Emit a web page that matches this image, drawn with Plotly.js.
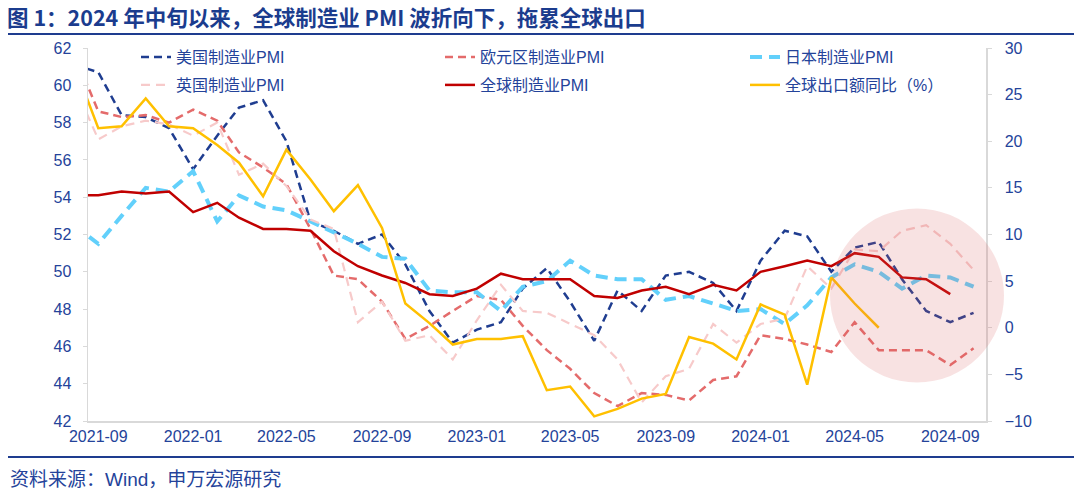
<!DOCTYPE html>
<html>
<head>
<meta charset="utf-8">
<script src="https://cdn.plot.ly/plotly-3.0.1.min.js"></script>
<style>
html,body{margin:0;padding:0;background:#fff;}
#chart{width:1080px;height:492px;}
</style>
</head>
<body>
<div id="chart"></div>
<script>
// ---- data ----
const months = [
  "2021-08","2021-09","2021-10","2021-11","2021-12",
  "2022-01","2022-02","2022-03","2022-04","2022-05","2022-06","2022-07","2022-08","2022-09","2022-10","2022-11","2022-12",
  "2023-01","2023-02","2023-03","2023-04","2023-05","2023-06","2023-07","2023-08","2023-09","2023-10","2023-11","2023-12",
  "2024-01","2024-02","2024-03","2024-04","2024-05","2024-06","2024-07","2024-08","2024-09","2024-10"
];
const seriesNames = ["美国制造业PMI","欧元区制造业PMI","日本制造业PMI","英国制造业PMI","全球制造业PMI","全球出口额同比（%）"];
const usPMI = [61.1,60.7,58.4,58.3,57.7,
  55.5,57.3,58.8,59.2,57.0,52.7,52.2,51.5,52.0,50.4,47.9,46.2,
  46.9,47.3,49.1,50.2,48.4,46.3,49.0,47.9,49.8,50.0,49.4,47.9,
  50.6,52.2,51.9,50.0,51.3,51.6,49.6,47.9,47.3,47.8];
const euroPMI = [61.7,58.6,58.3,58.4,58.0,
  58.7,58.1,56.4,55.6,54.7,52.3,49.8,49.6,48.4,46.4,47.1,47.9,
  48.7,48.5,47.1,45.8,44.8,43.5,42.8,43.5,43.4,43.1,44.2,44.4,
  46.6,46.4,46.1,45.7,47.3,45.8,45.8,45.8,45.0,45.9];
const japanPMI = [52.5,51.5,53.0,54.5,54.3,
  55.4,52.7,54.1,53.5,53.3,52.7,52.1,51.5,50.8,50.7,49.0,48.9,
  48.9,47.9,49.2,49.5,50.6,49.8,49.6,49.6,48.5,48.7,48.3,47.9,
  48.0,47.2,48.2,49.7,50.4,50.0,49.1,49.8,49.7,49.2];
const ukPMI = [60.0,57.1,57.8,58.1,57.9,
  57.3,58.0,55.2,55.8,54.6,52.8,52.3,47.3,48.4,46.3,46.6,45.3,
  47.4,49.3,47.9,47.8,47.2,46.6,45.3,43.0,44.4,44.8,47.2,46.2,
  47.2,47.5,50.3,49.1,51.2,51.1,52.2,52.5,51.5,50.1];
const globalPMI = [54.1,54.1,54.3,54.2,54.3,
  53.2,53.7,52.9,52.3,52.3,52.2,51.1,50.3,49.8,49.4,48.8,48.7,
  49.1,49.9,49.6,49.6,49.6,48.7,48.6,49.0,49.2,48.8,49.3,49.0,
  50.0,50.3,50.6,50.3,51.0,50.8,49.7,49.6,48.8];
const exportYoY = [28.2,21.4,21.6,24.6,21.6,
  21.4,19.6,17.7,14.1,19.1,15.9,12.5,15.3,10.7,2.6,0.5,-1.8,
  -1.2,-1.2,-0.9,-6.7,-6.3,-9.5,-8.7,-7.6,-7.1,-1.0,-1.7,-3.4,
  2.5,1.4,-6.1,5.4,2.6,0.0];

const titleText = "图 1：2024 年中旬以来，全球制造业 PMI 波折向下，拖累全球出口";
const sourceText = "资料来源：Wind，申万宏源研究";

// ---- styling ----
const NAVY = "#1E3C8F";
const TXT = "#24439A";
const FONT = "Liberation Sans, Arial, Noto Sans CJK SC, sans-serif";
const W = 1080, H = 492;
const M = {l:88, r:94, t:48, b:71, autoexpand: false};
const pw = W - M.l - M.r, ph = H - M.t - M.b;
const px2paperX = x => (x - M.l) / pw;
const px2paperY = y => (H - M.b - y) / ph;

// legend slot per series: [text-left x, row centre y] in pixels
const legendSlots = [[177,57],[481,57],[786,57],[177,85],[481,85],[786,85]];
const legendIds = ["legend","legend2","legend3","legend4","legend5","legend6"];

function mk(i, y, color, width, dash, yaxis) {
  return {
    type: "scatter", mode: "lines", name: seriesNames[i],
    x: months.slice(0, y.length), y: y,
    line: {color: color, width: width, dash: dash},
    legend: legendIds[i], yaxis: yaxis || "y",
    hoverinfo: "skip"
  };
}

const traces = [
  mk(0, usPMI, "#1F3D90", 2.5, "8px,5px"),
  mk(1, euroPMI, "#E46B6B", 2.5, "8px,5px"),
  mk(2, japanPMI, "#62D0FB", 4, "12px,7px"),
  mk(3, ukPMI, "#F7CACA", 2.2, "9px,6px"),
  mk(4, globalPMI, "#C00000", 2.5, "solid"),
  mk(5, exportYoY, "#FFC000", 2.5, "solid", "y2")
];

const layout = {
  width: W, height: H,
  margin: M,
  paper_bgcolor: "#fff", plot_bgcolor: "#fff",
  font: {family: FONT, size: 16, color: TXT},
  title: {
    text: "<b>" + titleText + "</b>",
    font: {family: "Noto Sans CJK SC, sans-serif", size: 21.5, color: "#1B3C8E"},
    xref: "container", yref: "container",
    x: 7 / W, xanchor: "left", y: 1 - 18 / H, yanchor: "middle"
  },
  showlegend: true,
  xaxis: {
    type: "date",
    range: ["2021-08-18 18:00", "2024-10-17"],
    tick0: "2021-09-01", dtick: "M4", tickformat: "%Y-%m",
    showgrid: false, zeroline: false,
    showline: true, linecolor: "#D9D9D9", linewidth: 1.5,
    ticks: "", tickfont: {family: FONT, size: 16, color: TXT}
  },
  yaxis: {
    range: [42, 62], dtick: 2, tick0: 42,
    showgrid: false, zeroline: false,
    showline: true, linecolor: "#D9D9D9", linewidth: 1.5,
    ticks: "outside", ticklen: 4, tickcolor: "#D9D9D9",
    ticklabelstandoff: 8,
    tickfont: {family: FONT, size: 16, color: TXT}
  },
  yaxis2: {
    range: [-10, 30], dtick: 5, tick0: -10,
    overlaying: "y", side: "right",
    showgrid: false, zeroline: false,
    showline: true, linecolor: "#D9D9D9", linewidth: 1.5,
    ticks: "outside", ticklen: 4, tickcolor: "#D9D9D9",
    ticklabelstandoff: 10,
    tickfont: {family: FONT, size: 16, color: TXT}
  },
  shapes: [
    {type: "line", xref: "paper", yref: "paper",
     x0: px2paperX(8), x1: px2paperX(1074), y0: px2paperY(34), y1: px2paperY(34),
     line: {color: NAVY, width: 2.2}},
    {type: "line", xref: "paper", yref: "paper",
     x0: px2paperX(8), x1: px2paperX(1074), y0: px2paperY(457), y1: px2paperY(457),
     line: {color: NAVY, width: 2.2}},
    {type: "circle", xref: "paper", yref: "paper", layer: "above",
     x0: px2paperX(830), x1: px2paperX(1004), y0: px2paperY(382.5), y1: px2paperY(208.5),
     fillcolor: "rgba(215,95,95,0.18)", line: {width: 0}}
  ],
  annotations: [
    {text: sourceText, xref: "paper", yref: "paper",
     x: px2paperX(8), y: px2paperY(479), xanchor: "left", yanchor: "middle",
     showarrow: false, font: {family: FONT, size: 19, color: TXT}}
  ]
};

legendIds.forEach((id, i) => {
  layout[id] = {
    orientation: "h", xref: "container", yref: "container",
    x: (legendSlots[i][0] - 41) / W, y: 1 - legendSlots[i][1] / H,
    xanchor: "left", yanchor: "middle",
    font: {family: FONT, size: 16, color: TXT},
    bgcolor: "rgba(0,0,0,0)", borderwidth: 0
  };
});

Plotly.newPlot("chart", traces, layout, {displayModeBar: false, staticPlot: true});
</script>
</body>
</html>
